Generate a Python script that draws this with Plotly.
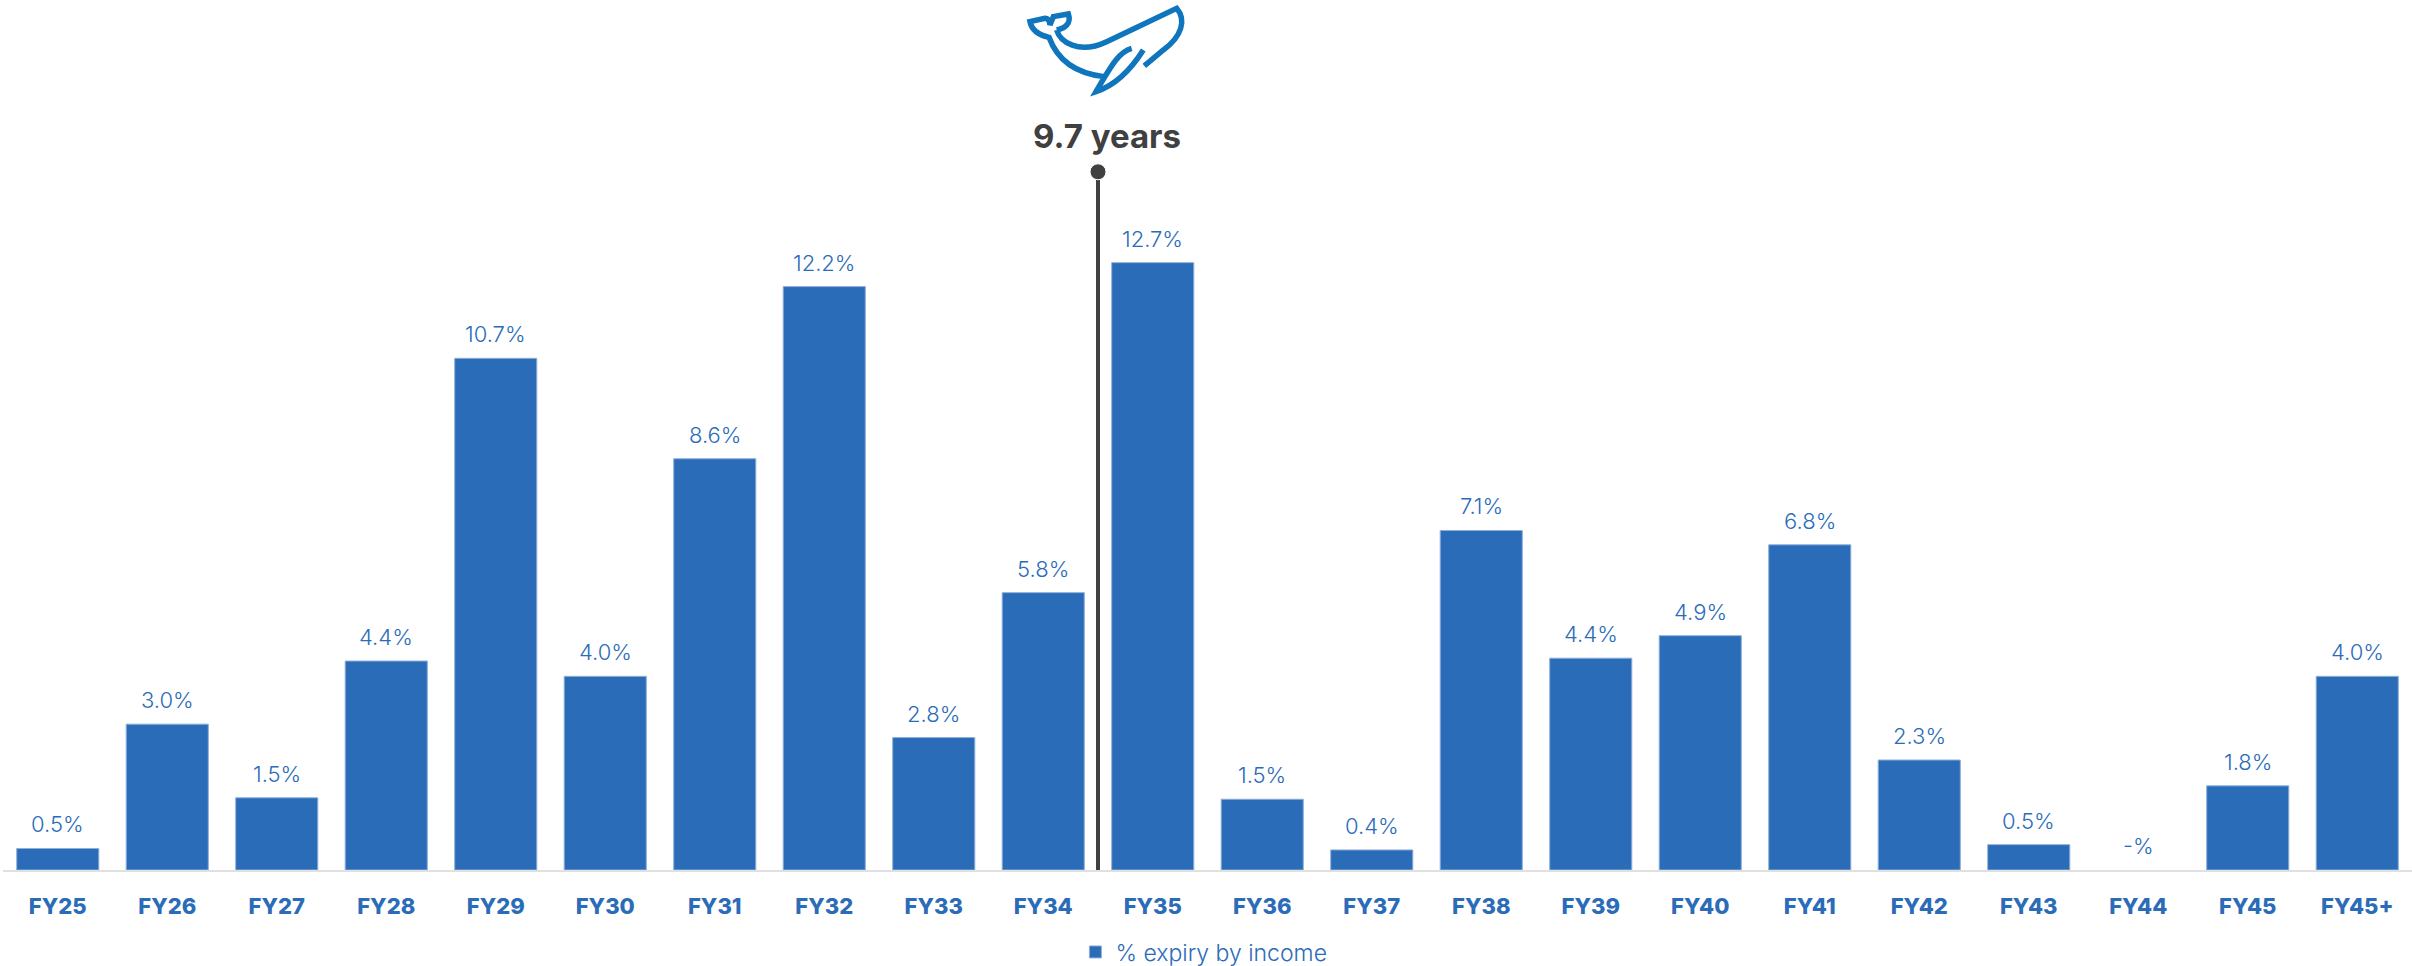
import plotly.graph_objects as go

categories = ["FY25","FY26","FY27","FY28","FY29","FY30","FY31","FY32","FY33","FY34","FY35",
              "FY36","FY37","FY38","FY39","FY40","FY41","FY42","FY43","FY44","FY45","FY45+"]
expiry = [0.45,3.05,1.51,4.37,10.7,4.05,8.6,12.2,2.77,5.8,12.7,
          1.48,0.42,7.1,4.43,4.9,6.8,2.3,0.53,0,1.76,4.05]
labels = ["0.5%","3.0%","1.5%","4.4%","10.7%","4.0%","8.6%","12.2%","2.8%","5.8%","12.7%",
          "1.5%","0.4%","7.1%","4.4%","4.9%","6.8%","2.3%","0.5%","-%","1.8%","4.0%"]
series_name = "% expiry by income"
marker_pos = 9.5
marker_top = 14.6
marker_label = "9.7 years"

W, H = 2412, 966
BLUE = "#2b6cb9"
DARK = "#404040"
FONT = "Inter"
ml, mb = 3, 95.5

def px(x, y):
    return f"{(x-ml)/(W-ml):.5f},{(H-mb-y)/(H-mb):.5f}"

def z(x, y):
    return px(950+x/3, y/3)

whale = (
    f"M{z(320,90)} C{z(330,125)} {z(385,165)} {z(470,125)} L{z(680,25)} "
    f"C{z(710,60)} {z(695,110)} {z(640,150)} L{z(583,198)} "
    f"M{z(320,90)} C{z(345,85)} {z(365,70)} {z(355,42)} L{z(310,50)} L{z(300,75)} "
    f"C{z(298,58)} {z(290,55)} {z(285,55)} L{z(240,65)} C{z(245,90)} {z(265,105)} {z(297,112)} "
    f"C{z(320,175)} {z(370,220)} {z(462,230)} "
    f"M{z(545,145)} C{z(510,155)} {z(490,185)} {z(438,275)} "
    f"C{z(500,255)} {z(545,205)} {z(580,150)}"
)

fig = go.Figure()
fig.add_bar(x=list(range(len(categories))), y=expiry, width=0.75, name=series_name,
            marker=dict(color=BLUE, line=dict(color="#8fb0da", width=[1 if v else 0 for v in expiry])),
            showlegend=True)
fig.add_scatter(x=[marker_pos, marker_pos], y=[0, marker_top], mode="lines+markers", showlegend=False,
                line=dict(color=DARK, width=4), marker=dict(color=DARK, size=[0, 16], opacity=[0, 1]),
                hoverinfo="skip")

for i, (v, t) in enumerate(zip(expiry, labels)):
    fig.add_annotation(x=i, y=v, text=t, showarrow=False, yanchor="middle", yshift=24,
                       font=dict(family=FONT, size=22, color=BLUE, weight=300))
fig.add_annotation(x=marker_pos, y=marker_top, text=marker_label, showarrow=False, xshift=9, yshift=36,
                   yanchor="middle", font=dict(family=FONT, size=33, color=DARK, weight=700))

fig.update_layout(
    width=W, height=H, margin=dict(l=ml, r=0, t=0, b=mb, pad=0),
    paper_bgcolor="white", plot_bgcolor="white",
    showlegend=True,
    legend=dict(orientation="h", x=0.4985, xanchor="center", yref="container", y=0.0145, yanchor="middle",
                font=dict(family=FONT, size=23, color=BLUE, weight=300)),
    xaxis=dict(range=[-0.5, 21.5], tickmode="array", tickvals=list(range(len(categories))),
               ticktext=categories, showgrid=False, zeroline=False, showline=True,
               linecolor="#e0e0e0", linewidth=2, ticks="", ticklabelstandoff=16,
               tickfont=dict(family=FONT, size=22, color=BLUE, weight=800)),
    yaxis=dict(range=[0, (H-mb)/47.85], visible=False),
    shapes=[dict(type="path", path=whale, xref="paper", yref="paper",
                 line=dict(color="#0f75bc", width=5.5), fillcolor="rgba(0,0,0,0)")],
)
fig.write_html("out.html", config=dict(displayModeBar=False), post_script="document.body.style.margin='0';")
